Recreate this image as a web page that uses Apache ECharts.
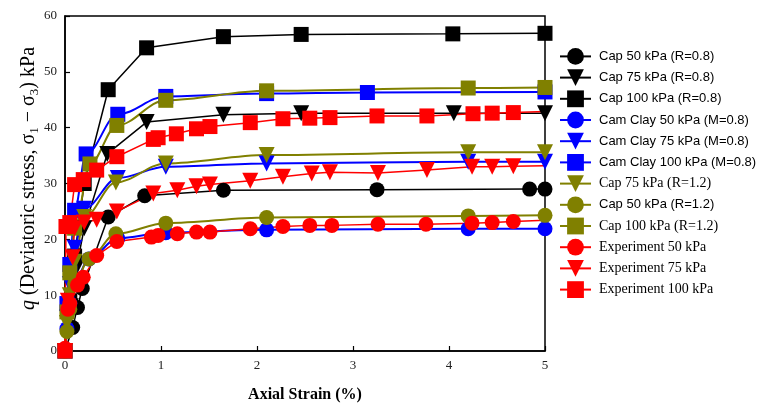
<!DOCTYPE html>
<html>
<head>
<meta charset="utf-8">
<script src="https://cdn.jsdelivr.net/npm/echarts@6/dist/echarts.min.js"></script>
<style>
  html, body { margin: 0; padding: 0; background: #fff; }
  #chart { width: 769px; height: 407px; }
</style>
</head>
<body>
<div id="chart"></div>
<script>
// Axis ticks
const xTicks = [0, 1, 2, 3, 4, 5];
const yTicks = [0, 10, 20, 30, 40, 50, 60];

// Cap model, R = 0.8  [axial strain %, q kPa]
const capR08_50 = [[0,0],[0.08,4.2],[0.13,7.8],[0.18,11.2],[0.45,24],[0.83,27.8],[1.65,28.8],[3.25,28.9],[4.84,29],[5,29]];
const capR08_75 = [[0,0],[0.06,8],[0.12,15],[0.2,22],[0.44,35.3],[0.85,41],[1.65,42.3],[2.46,42.6],[4.05,42.6],[5,42.6]];
const capR08_100 = [[0,0],[0.05,9],[0.1,17],[0.2,30],[0.45,46.8],[0.85,54.3],[1.65,56.3],[2.46,56.7],[4.04,56.8],[5,56.9]];

// Cam Clay model, M = 0.8
const camClay50 = [[0,0],[0.02,4],[0.05,8.5],[0.1,12.5],[0.25,16.5],[0.55,20.2],[1.05,21.2],[2.1,21.7],[4.2,21.9],[5,21.9]];
const camClay75 = [[0,0],[0.02,6],[0.05,12],[0.1,18.5],[0.2,25.5],[0.55,31],[1.05,33],[2.1,33.6],[4.2,33.9],[5,33.9]];
const camClay100 = [[0,0],[0.02,8.5],[0.05,15.5],[0.1,25.2],[0.22,35.3],[0.55,42.4],[1.05,45.6],[2.1,46.1],[3.15,46.3],[5,46.4]];

// Cap model, R = 1.2
const capR12_75 = [[0,0],[0.02,5],[0.05,10],[0.1,16],[0.2,24],[0.53,30.2],[1.05,33.6],[2.1,35.1],[4.2,35.6],[5,35.6]];
const capR12_50 = [[0,0],[0.02,3.5],[0.05,7.5],[0.1,12],[0.25,16.5],[0.53,21],[1.05,22.9],[2.1,23.9],[4.2,24.2],[5,24.3]];
const capR12_100 = [[0,0],[0.02,7],[0.05,14],[0.1,22],[0.26,33.5],[0.54,40.4],[1.05,44.9],[2.1,46.6],[4.2,47.1],[5,47.2]];

// Triaxial test results (last entry of each is the end of the fitted line)
const exp50 = [[0,0.5],[0.03,7.5],[0.05,8.5],[0.13,11.8],[0.19,13.2],[0.33,17.1],[0.54,19.6],[0.9,20.4],[0.97,20.7],[1.17,21],[1.37,21.3],[1.51,21.3],[1.93,21.9],[2.27,22.3],[2.55,22.5],[2.78,22.5],[3.26,22.7],[3.76,22.7],[4.24,22.9],[4.45,23],[4.67,23.2],[5,23.4]];
const exp75 = [[0,0],[0.03,9],[0.08,16.8],[0.1,22],[0.2,23],[0.33,23.5],[0.54,25],[0.92,28.2],[1.17,28.8],[1.37,29.5],[1.51,29.8],[1.93,30.5],[2.27,31.2],[2.57,31.8],[2.76,32],[3.26,31.9],[3.77,32.4],[4.24,33],[4.45,33],[4.67,33.1],[5,33.2]];
const exp100 = [[0,0],[0.01,22.3],[0.05,23],[0.1,29.8],[0.19,30.7],[0.33,32.4],[0.54,34.8],[0.92,37.9],[0.97,38.2],[1.16,38.9],[1.37,39.8],[1.51,40.2],[1.93,40.9],[2.27,41.6],[2.55,41.7],[2.76,41.8],[3.25,42.1],[3.77,42.1],[4.25,42.5],[4.45,42.6],[4.67,42.7],[5,42.9]];

const seriesNames = [
  'Cap 50 kPa (R=0.8)', 'Cap 75 kPa (R=0.8)', 'Cap 100 kPa (R=0.8)',
  'Cam Clay 50 kPa (M=0.8)', 'Cam Clay 75 kPa (M=0.8)', 'Cam Clay 100 kPa (M=0.8)',
  'Cap 75 kPa (R=1.2)', 'Cap 50 kPa (R=1.2)', 'Cap 100 kPa (R=1.2)',
  'Experiment 50 kPa', 'Experiment 75 kPa', 'Experiment 100 kPa'
];
const seriesValues = [
  capR08_50, capR08_75, capR08_100,
  camClay50, camClay75, camClay100,
  capR12_75, capR12_50, capR12_100,
  exp50, exp75, exp100
];

const BLACK = '#000000', BLUE = '#0000ff', OLIVE = '#808000', RED = '#ff0000';
const styles = [
  { c: BLACK, s: 'circle' }, { c: BLACK, s: 'tri' }, { c: BLACK, s: 'rect' },
  { c: BLUE, s: 'circle', smooth: true }, { c: BLUE, s: 'tri', smooth: true }, { c: BLUE, s: 'rect', smooth: true },
  { c: OLIVE, s: 'tri', smooth: true }, { c: OLIVE, s: 'circle', smooth: true }, { c: OLIVE, s: 'rect', smooth: true },
  { c: RED, s: 'circle', exp: true }, { c: RED, s: 'tri', exp: true }, { c: RED, s: 'rect', exp: true }
];
const serifLegend = ['Cap 75 kPa (R=1.2)', 'Cap 100 kPa (R=1.2)',
  'Experiment 50 kPa', 'Experiment 75 kPa', 'Experiment 100 kPa'];

const series = seriesNames.map((name, i) => {
  const st = styles[i];
  const vals = seriesValues[i];
  const data = vals.map((v, k) =>
    (st.exp && k === vals.length - 1) ? { value: v, symbol: 'none' } : v);
  const sym = st.s === 'tri' ? 'triangle' : st.s;
  return {
    name: name,
    type: 'line',
    data: data,
    smooth: st.smooth ? 0.35 : false,
    smoothMonotone: 'x',
    symbol: sym,
    symbolRotate: st.s === 'tri' ? 180 : 0,
    symbolSize: st.s === 'tri' ? 16 : 15,
    showAllSymbol: true,
    clip: false,
    lineStyle: { color: st.c, width: st.smooth ? 2 : 1.5 },
    itemStyle: { color: st.c, borderWidth: 0 },
    emphasis: { disabled: true },
    animation: false
  };
});

const serif = 'Liberation Serif, Times New Roman, serif';
const chart = echarts.init(document.getElementById('chart'), null, { renderer: 'canvas' });
chart.setOption({
  backgroundColor: '#ffffff',
  animation: false,
  grid: {
    left: 65, right: 224, top: 16, bottom: 56,
    outerBoundsMode: 'none', containLabel: false,
    show: true, borderColor: '#000', borderWidth: 1.5, backgroundColor: 'transparent'
  },
  xAxis: {
    type: 'value', min: xTicks[0], max: xTicks[xTicks.length - 1], interval: 1,
    name: 'Axial Strain (%)', nameLocation: 'middle', nameGap: 36, nameMoveOverlap: false,
    nameTextStyle: { fontFamily: serif, fontSize: 16, fontWeight: 'bold', color: '#000' },
    axisLine: { lineStyle: { color: '#000', width: 1.5 } },
    axisTick: { inside: true, length: 5, lineStyle: { color: '#000', width: 1.2 } },
    axisLabel: { fontFamily: serif, fontSize: 13, color: '#222', margin: 8 },
    splitLine: { show: false }
  },
  yAxis: {
    type: 'value', min: yTicks[0], max: yTicks[yTicks.length - 1], interval: 10,
    name: '{i|q} {n|(Deviatoric stress, σ}{s|1}{n| − σ}{s|3}{n|) kPa}',
    nameLocation: 'middle', nameGap: 24, nameRotate: 90, nameMoveOverlap: false,
    nameTextStyle: {
      fontFamily: serif, fontSize: 20, color: '#000', padding: [0, 0, 0, 10],
      rich: {
        i: { fontFamily: serif, fontSize: 20, fontStyle: 'italic', lineHeight: 24, color: '#000' },
        n: { fontFamily: serif, fontSize: 20, lineHeight: 24, color: '#000' },
        s: { fontFamily: serif, fontSize: 13, lineHeight: 13, verticalAlign: 'bottom', color: '#000' }
      }
    },
    axisLine: { lineStyle: { color: '#000', width: 1.5 } },
    axisTick: { inside: true, length: 5, lineStyle: { color: '#000', width: 1.2 } },
    axisLabel: { fontFamily: serif, fontSize: 13, color: '#222', margin: 8 },
    splitLine: { show: false }
  },
  legend: {
    orient: 'vertical', left: 559, top: 48, padding: 0,
    itemWidth: 31, itemHeight: 21, itemGap: 4.4,
    data: seriesNames,
    selectedMode: false,
    formatter: n => serifLegend.includes(n) ? '{r|' + n + '}' : '{a|' + n + '}',
    textStyle: {
      color: '#000', padding: [0, 0, 0, 3],
      rich: {
        a: { fontFamily: 'Liberation Sans, Arial, sans-serif', fontSize: 13, color: '#000' },
        r: { fontFamily: serif, fontSize: 14, color: '#000' }
      }
    }
  },
  series: series
});
</script>
</body>
</html>
